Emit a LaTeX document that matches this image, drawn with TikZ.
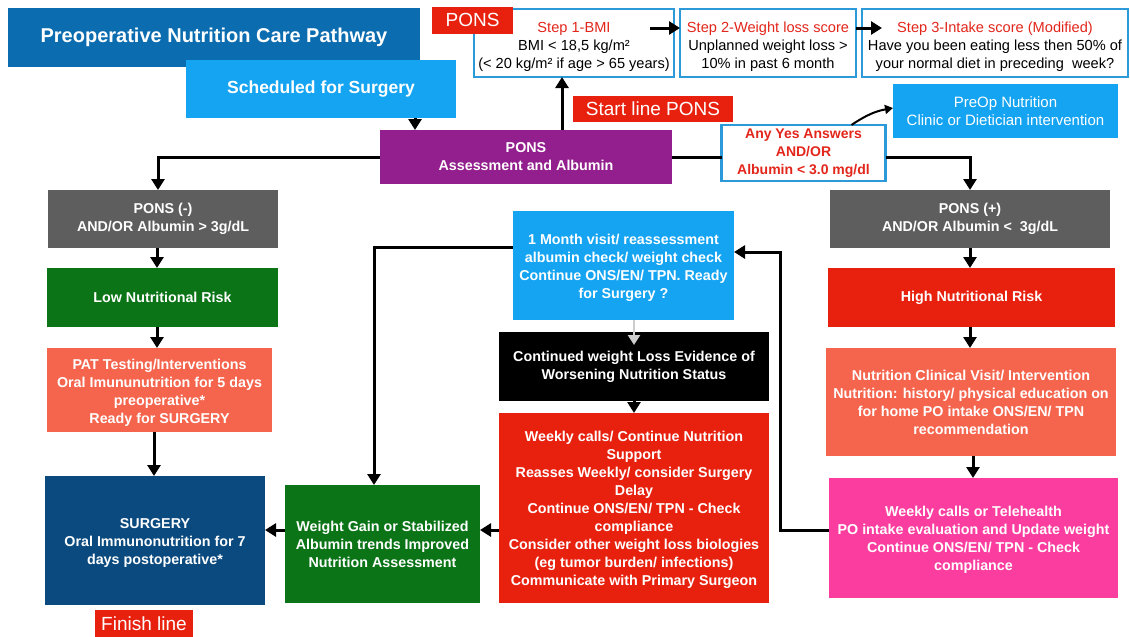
\documentclass[tikz,border=0pt]{standalone}
\usepackage{fontspec}
\setmainfont{Liberation Sans}
\usetikzlibrary{arrows.meta}
\definecolor{cTitle}{RGB}{11,108,176}
\definecolor{cLight}{RGB}{20,164,242}
\definecolor{cPurple}{RGB}{147,31,142}
\definecolor{cGray}{RGB}{94,94,94}
\definecolor{cGreen}{RGB}{11,116,23}
\definecolor{cSalmon}{RGB}{245,100,76}
\definecolor{cRed}{RGB}{232,33,15}
\definecolor{cNavy}{RGB}{11,74,126}
\definecolor{cPink}{RGB}{251,61,160}
\definecolor{cBorder}{RGB}{44,154,217}
\definecolor{cRedText}{RGB}{227,38,27}
\definecolor{cArrowGray}{RGB}{205,205,205}
\newcommand\myfs[1]{\fontsize{#1}{18}\selectfont}
\newcommand\dn[1]{\rule{0pt}{#1pt}}
\begin{document}
\begin{tikzpicture}[x=1pt,y=-1pt,
  box/.style={rectangle,draw=none,text=white,align=center,inner sep=0pt,outer sep=0pt,font=\bfseries\myfs{14.3}},
  stepbox/.style={rectangle,draw=cBorder,line width=2.5pt,fill=white,text=black,align=center,inner sep=0pt,outer sep=0pt,font=\myfs{14.6}},
  lab/.style={rectangle,fill=cRed,text=white,align=center,inner sep=0pt,outer sep=0pt,font=\myfs{19}},
  arr/.style={line width=3pt,-{Triangle[length=11pt,width=13pt]}},
  ln/.style={line width=3pt}]
\useasboundingbox[fill=white] (0,0) rectangle (1130,637);

% top
\node[box,fill=cTitle,minimum width=412,minimum height=59,font=\bfseries\myfs{20}] (title) at (214,37.5) {Preoperative Nutrition Care Pathway};
\node[box,fill=cLight,minimum width=270,minimum height=58,font=\bfseries\myfs{17.5}] (sched) at (321,89) {Scheduled for Surgery};

\node[stepbox,minimum width=200,minimum height=68] (step1) at (574,43) {\dn{19}\textcolor{cRedText}{Step 1-BMI}\\BMI < 18,5 kg/m²\\(< 20 kg/m² if age > 65 years)};
\node[stepbox,minimum width=176,minimum height=68] (step2) at (768,43) {\dn{19}\textcolor{cRedText}{Step 2-Weight loss score}\\Unplanned weight loss >\\10\% in past 6 month};
\node[stepbox,minimum width=266,minimum height=68] (step3) at (995,43) {\dn{19}\textcolor{cRedText}{Step 3-Intake score (Modified)}\\Have you been eating less then 50\% of\\your normal diet in preceding~ week?};
\node[lab,minimum width=81,minimum height=27] (ponslab) at (472.5,20) {PONS};

\node[lab,minimum width=160,minimum height=26] (startlab) at (653,109) {Start line PONS};
\node[box,fill=cLight,minimum width=225,minimum height=54,font=\myfs{15}] (preop) at (1005.5,111) {PreOp Nutrition\\Clinic or Dietician intervention};

\node[box,fill=cPurple,minimum width=292,minimum height=54] (pons) at (526,157) {PONS\\Assessment and Albumin};
\node[stepbox,minimum width=164,minimum height=56,font=\bfseries\myfs{14},text=cRedText] (anyyes) at (803.5,153) {Any Yes Answers\\AND/OR\\Albumin < 3.0 mg/dl};

% left column
\node[box,fill=cGray,minimum width=230,minimum height=58] (neg) at (163,219) {PONS (-)\\AND/OR Albumin > 3g/dL};
\node[box,fill=cGreen,minimum width=231,minimum height=59] (low) at (162.5,297.5) {Low Nutritional Risk};
\node[box,fill=cSalmon,minimum width=225,minimum height=84] (pat) at (159.5,390) {\dn{16}PAT Testing/Interventions\\Oral Imununutrition for 5 days\\preoperative*\\Ready for SURGERY};
\node[box,fill=cNavy,minimum width=220,minimum height=129] (surgery) at (155,540.5) {\dn{14}SURGERY\\Oral Immunonutrition for 7\\days postoperative*};
\node[lab,minimum width=98,minimum height=27] (finish) at (144,623.5) {Finish line};

% middle
\node[box,fill=cGreen,minimum width=195,minimum height=118] (gain) at (382.5,544) {Weight Gain or Stabilized\\Albumin trends Improved\\Nutrition Assessment};
\node[box,fill=cLight,minimum width=221,minimum height=109] (month) at (623.5,265.5) {\dn{16}1 Month visit/ reassessment\\albumin check/ weight check\\Continue ONS/EN/ TPN. Ready\\for Surgery ?};
\node[box,fill=black,minimum width=270,minimum height=69] (cont) at (634,366.5) {Continued weight Loss Evidence of\\Worsening Nutrition Status};
\node[box,fill=cRed,minimum width=270,minimum height=190] (weekly) at (634,508) {\dn{14}Weekly calls/ Continue Nutrition\\Support\\Reasses Weekly/ consider Surgery\\Delay\\Continue ONS/EN/ TPN - Check\\compliance\\Consider other weight loss biologies\\(eg tumor burden/ infections)\\Communicate with Primary Surgeon};

% right column
\node[box,fill=cGray,minimum width=280,minimum height=58] (pos) at (970,219) {PONS (+)\\AND/OR Albumin <~ 3g/dL};
\node[box,fill=cRed,minimum width=287,minimum height=59] (high) at (971.5,297.5) {High Nutritional Risk};
\node[box,fill=cSalmon,minimum width=290,minimum height=108] (clin) at (971,402) {Nutrition Clinical Visit/ Intervention\\Nutrition: history/ physical education on\\for home PO intake ONS/EN/ TPN\\recommendation};
\node[box,fill=cPink,minimum width=289,minimum height=120] (tele) at (973.5,538) {\dn{14}Weekly calls or Telehealth\\PO intake evaluation and Update weight\\Continue ONS/EN/ TPN - Check\\compliance};

% connectors
\draw[arr] ([xshift=35pt]pons.north west |- sched.south) -- ([xshift=35pt]pons.north west);
\draw[arr] ([xshift=-12pt]step1.south |- pons.north) -- ([xshift=-12pt]step1.south);
\draw[arr] ([xshift=-24pt,yshift=15pt]step1.east) -- ([yshift=15pt]step2.west);
\draw[arr] ([yshift=15pt]step2.east) -- ([xshift=20pt,yshift=15pt]step3.west);
\draw[line width=2pt,-{Triangle[length=8pt,width=9pt]}] ([xshift=48pt]anyyes.north) to[bend left=12] ([yshift=3pt]preop.west);
\draw[arr] (pons.west) -| ([xshift=-5pt]neg.north);
\draw[ln] (pons.east) -- (pons.east -| anyyes.west);
\draw[arr] (pons.east -| anyyes.east) -| (pos.north);
\draw[arr] (neg.south -| 157,0) -- (low.north -| 157,0);
\draw[arr] (low.south -| 157,0) -- (pat.north -| 157,0);
\draw[arr] (pat.south -| 154,0) -- (surgery.north -| 154,0);
\draw[arr] ([yshift=14pt]gain.west) -- ([yshift=14pt]gain.west -| surgery.east);
\draw[arr] ([yshift=18.5pt]month.west) -| ([xshift=-8.5pt]gain.north);
\draw[line width=2.5pt,cArrowGray,-{Triangle[length=10pt,width=12pt]}] (cont.north |- month.south) -- ([yshift=-13pt]cont.north);
\draw[arr] (cont.south) -- (weekly.north);
\draw[arr] ([yshift=-22pt]weekly.west) -- ([yshift=-22pt]weekly.west -| gain.east);
\draw[arr] (pos.south) -- (high.north -| pos.south);
\draw[arr] (high.south -| pos.south) -- (clin.north -| pos.south);
\draw[arr] ([xshift=2pt]clin.south) -- ([xshift=2pt]clin.south |- tele.north);
\draw[arr] ([yshift=8pt]tele.west) -- ++(-49,0) |- ([yshift=13.5pt]month.east);
\end{tikzpicture}
\end{document}
